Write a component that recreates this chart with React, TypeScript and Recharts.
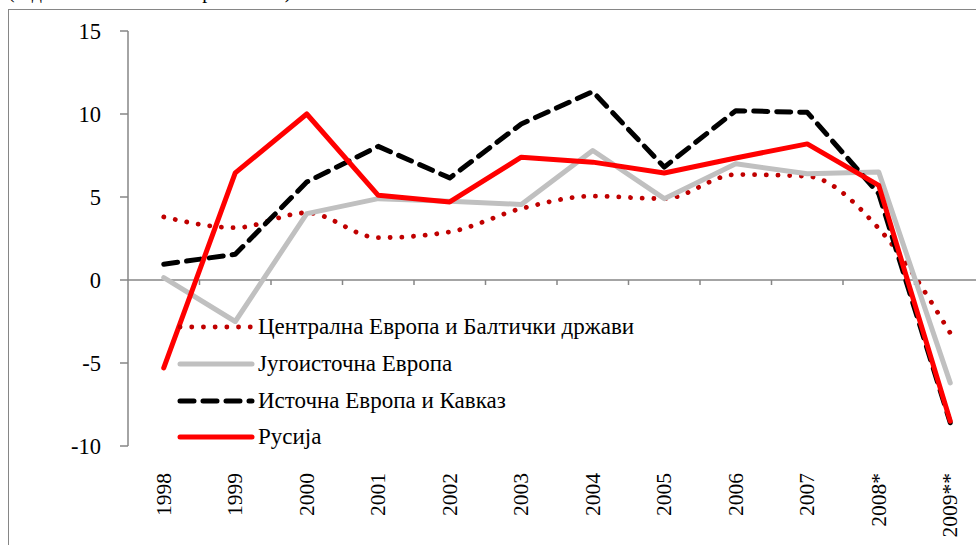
import { Legend, Line, LineChart, ReferenceLine, XAxis, YAxis } from "recharts";

const YEARS = ["1998", "1999", "2000", "2001", "2002", "2003", "2004", "2005", "2006", "2007", "2008*", "2009**"];
const CENTRAL_BALTIC = [3.8, 3.15, 4.05, 2.55, 2.9, 4.3, 5.05, 4.9, 6.35, 6.25, 3.1, -3.2];
const SOUTH_EAST = [0.15, -2.5, 4.0, 4.9, 4.75, 4.55, 7.8, 4.9, 7.0, 6.4, 6.5, -6.2];
const EAST_CAUCASUS = [0.95, 1.55, 5.9, 8.05, 6.15, 9.4, 11.35, 6.8, 10.2, 10.1, 5.2, -8.6];
const RUSSIA = [-5.3, 6.45, 10.0, 5.1, 4.7, 7.4, 7.1, 6.45, 7.35, 8.2, 5.7, -8.5];
const Y_TICKS = [-10, -5, 0, 5, 10, 15];

const data = YEARS.map((year, i) => ({
  year,
  cb: CENTRAL_BALTIC[i],
  se: SOUTH_EAST[i],
  ec: EAST_CAUCASUS[i],
  ru: RUSSIA[i],
}));

const SERIES = [
  { key: "cb", name: "Централна Европа и Балтички држави", color: "#C00000", width: 4.8, dash: "0.1 11.6", type: "monotone" },
  { key: "se", name: "Југоисточна Европа", color: "#C0C0C0", width: 5, dash: undefined, type: "linear" },
  { key: "ec", name: "Источна Европа и Кавказ", color: "#000000", width: 5, dash: "14 9", type: "linear" },
  { key: "ru", name: "Русија", color: "#FF0000", width: 5, dash: undefined, type: "linear" },
];

const FONT = "'Liberation Serif', 'Times New Roman', serif";
const GRAY = "#868686";

function YearTick({ x, y, payload }: any) {
  return (
    <text
      transform={`translate(${x + 7},${y + 19}) rotate(-90)`}
      textAnchor="end"
      fontFamily={FONT}
      fontSize={21.5}
      fill="#000"
    >
      {payload.value}
    </text>
  );
}

function ZeroTicks({ viewBox }: any) {
  if (!viewBox) return null;
  const step = viewBox.width / YEARS.length;
  return (
    <g>
      {YEARS.slice(1).map((_, i) => (
        <line
          key={i}
          x1={viewBox.x + step * (i + 1)}
          x2={viewBox.x + step * (i + 1)}
          y1={viewBox.y}
          y2={viewBox.y + 5}
          stroke={GRAY}
          strokeWidth={1.5}
        />
      ))}
    </g>
  );
}

function LegendBox() {
  return (
    <div style={{ fontFamily: FONT, fontSize: 23, color: "#000" }}>
      {SERIES.map((s) => (
        <div key={s.key} style={{ display: "flex", alignItems: "center", height: 36.7 }}>
          <svg width={82} height={12}>
            <line
              x1={4}
              x2={76}
              y1={6}
              y2={6}
              stroke={s.color}
              strokeWidth={s.width}
              strokeDasharray={s.dash}
              strokeLinecap="round"
            />
          </svg>
          <span style={{ whiteSpace: "nowrap" }}>{s.name}</span>
        </div>
      ))}
    </div>
  );
}

export default function App() {
  return (
    <div style={{ position: "fixed", left: 0, top: 0, width: 976, height: 545, overflow: "hidden", background: "#fff" }}>
      <div style={{ position: "absolute", left: 8, top: -20, fontFamily: FONT, fontSize: 20, whiteSpace: "nowrap" }}>
        (годишни стапки на пораст во %)
      </div>
      <div
        style={{
          position: "absolute",
          left: 8,
          top: 9,
          width: 1100,
          height: 700,
          border: `1.5px solid ${GRAY}`,
        }}
      />
      <div style={{ position: "absolute", left: 0, top: 0 }}>
        <LineChart width={1010} height={545} data={data} margin={{ top: 31, right: 24, bottom: 9, left: 0 }}>
          <XAxis
            dataKey="year"
            scale="band"
            height={90}
            axisLine={false}
            tickLine={false}
            interval={0}
            tick={<YearTick />}
          />
          <YAxis
            width={128}
            domain={[-10, 15]}
            ticks={Y_TICKS}
            interval={0}
            axisLine={{ stroke: GRAY, strokeWidth: 1.5 }}
            tickLine={{ stroke: GRAY, strokeWidth: 1.5 }}
            tickSize={8}
            tickMargin={19}
            tick={{ fontFamily: FONT, fontSize: 22.5, fill: "#000" }}
          />
          <ReferenceLine y={0} stroke={GRAY} strokeWidth={1.5} label={<ZeroTicks />} />
          {SERIES.map((s) => (
            <Line
              key={s.key}
              dataKey={s.key}
              name={s.name}
              type={s.type as any}
              stroke={s.color}
              strokeWidth={s.width}
              strokeDasharray={s.dash}
              strokeLinecap="round"
              strokeLinejoin="round"
              dot={false}
              activeDot={false}
              isAnimationActive={false}
            />
          ))}
          <Legend
            layout="vertical"
            align="center"
            verticalAlign="middle"
            content={<LegendBox />}
            wrapperStyle={{ position: "absolute", left: 176, top: 309, width: 700 }}
          />
        </LineChart>
      </div>
    </div>
  );
}
